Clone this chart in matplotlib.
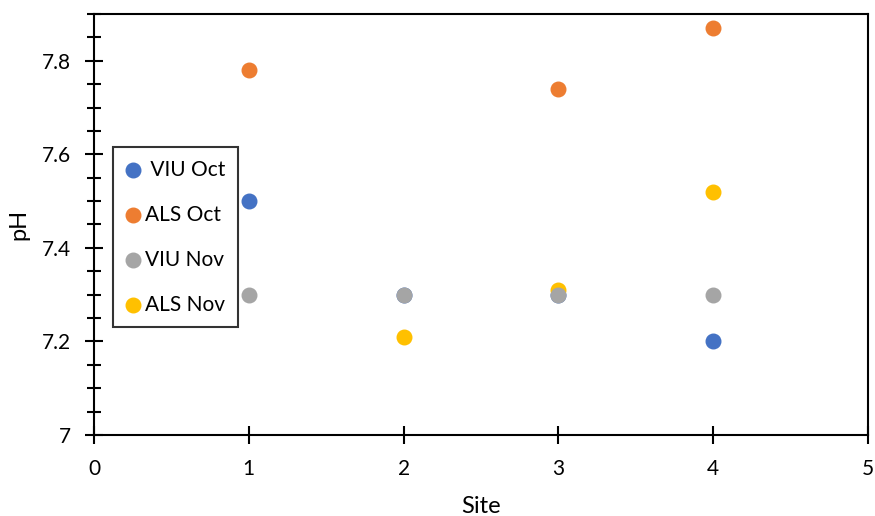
import matplotlib.pyplot as plt
from matplotlib.ticker import MultipleLocator

plt.rcParams['font.family'] = ['Lato', 'DejaVu Sans']

# pH measurements per site
viu_oct_site = [1, 2, 3, 4]
viu_oct_ph = [7.5, 7.3, 7.3, 7.2]
als_oct_site = [1, 3, 4]
als_oct_ph = [7.78, 7.74, 7.87]
viu_nov_site = [1, 2, 3, 4]
viu_nov_ph = [7.3, 7.3, 7.3, 7.3]
als_nov_site = [2, 3, 4]
als_nov_ph = [7.21, 7.31, 7.52]

fig = plt.figure(figsize=(8.75, 5.16), dpi=100)
ax = fig.add_axes([0.1074, 0.157, 0.8846, 0.8159])

ms = 110
ax.scatter(viu_oct_site, viu_oct_ph, s=ms, color='#4472C4', label=' VIU Oct', zorder=3)
ax.scatter(als_oct_site, als_oct_ph, s=ms, color='#ED7D31', label='ALS Oct', zorder=3)
ax.scatter(viu_nov_site, viu_nov_ph, s=ms, color='#A5A5A5', label='VIU Nov', zorder=4)
ax.scatter(als_nov_site, als_nov_ph, s=ms, color='#FFC000', label='ALS Nov', zorder=3)

ax.set_xlim(0, 5)
ax.set_ylim(7, 7.9)
ax.xaxis.set_major_locator(MultipleLocator(1))
ax.yaxis.set_major_locator(MultipleLocator(0.2))
ax.yaxis.set_minor_locator(MultipleLocator(0.05))
ax.yaxis.set_major_formatter(lambda v, p: f'{v:g}')

ax.tick_params(axis='both', which='major', direction='inout', length=13, width=1.5,
               labelsize=15)
ax.tick_params(axis='x', which='major', pad=11)
ax.tick_params(axis='y', which='major', pad=10)
ax.tick_params(axis='y', which='minor', direction='inout', length=10, width=1.5)
for sp in ax.spines.values():
    sp.set_linewidth(1.5)
    sp.set_color('black')

ax.set_xlabel('Site', fontsize=17, labelpad=12)
ax.set_ylabel('pH', fontsize=17, labelpad=9)

leg = ax.legend(loc='upper left', bbox_to_anchor=(0.0245, 0.684), borderaxespad=0,
                fontsize=15, frameon=True, fancybox=False, edgecolor='black',
                labelspacing=1.2, handletextpad=0.25, handlelength=0.7,
                borderpad=0.6, scatterpoints=1)
leg.get_frame().set_linewidth(1.5)

fig.savefig('out.png', dpi=100)
